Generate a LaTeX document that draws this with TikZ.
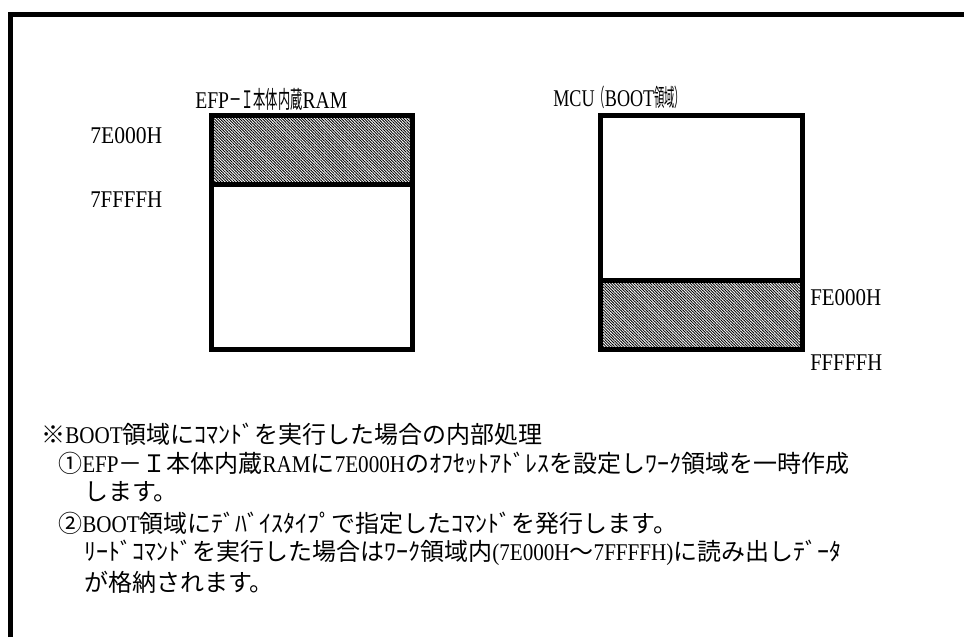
\documentclass[tikz,border=0pt]{standalone}
\usepackage{fontspec}
\usepackage{graphicx}
\setmainfont{Liberation Serif}[FakeStretch=0.88]
\newfontfamily\jp{Noto Sans CJK JP}
\usetikzlibrary{patterns.meta}
\newlength\fitlen
\newcommand\fitw[2]{\settowidth\fitlen{#2}\pgfmathsetmacro\fitfac{#1*0.75/\fitlen}\scalebox{\fitfac}[1]{#2}}
\begin{document}
\begin{tikzpicture}[x=0.75pt,y=-0.75pt,
  frame/.style={line width=3.75pt},
  membox/.style={line width=3.4pt},
  hatch/.style={pattern={Lines[angle=-45,distance=1.5pt,line width=0.65pt]}},
  txt/.style={anchor=west,inner sep=0pt,font=\fontsize{18pt}{22pt}\selectfont}]
\useasboundingbox (0,0) rectangle (964,637);
\fill[white] (0,0) rectangle (964,637);
% outer frame (only top and left are visible)
\coordinate (fbl) at (10.5,637);
\coordinate (ftl) at (10.5,14.5);
\coordinate (ftr) at (964,14.5);
\draw[frame] (fbl) -- (ftl) -- (ftr);
% RAM box
\coordinate (ramtl) at (211.5,115.5);
\coordinate (rambr) at (412.5,349.5);
\coordinate (ramdl) at (211.5,184.5);
\coordinate (ramdr) at (412.5,184.5);
\fill[hatch] (ramtl) rectangle (ramdr);
\draw[membox] (ramtl) rectangle (rambr);
\draw[membox] (ramdl) -- (ramdr);
% MCU box
\coordinate (mcutl) at (600.5,115.5);
\coordinate (mcubr) at (802.5,349.5);
\coordinate (mcudl) at (600.5,280.5);
\coordinate (mcudr) at (802.5,280.5);
\fill[hatch] (mcudl) rectangle (mcubr);
\draw[membox] (mcutl) rectangle (mcubr);
\draw[membox] (mcudl) -- (mcudr);
% titles
\node[txt] (t1) at (195,99) {\fitw{152}{EFP{\jp\scalebox{0.55}[1]{－Ｉ本体内蔵}}RAM}};
\node[txt] (t2) at (553,97) {\fitw{132}{MCU{\jp\scalebox{0.5}[1]{（}}BOOT{\jp\scalebox{0.5}[1]{領域）}}}};
% address labels
\node[txt] (a1) at (90,136) {\fitw{72}{7E000H}};
\node[txt] (a2) at (90,200) {\fitw{72}{7FFFFH}};
\node[txt] (a3) at (810,298) {\fitw{71}{FE000H}};
\node[txt] (a4) at (810,363) {\fitw{72}{FFFFFH}};
% notes
\node[txt] (n1) at (41,434) {{\jp ※}BOOT{\jp 領域にｺﾏﾝﾄﾞを実行した場合の内部処理}};
\node[txt] (n2) at (58,463) {{\jp ①}EFP{\jp －Ｉ本体内蔵}RAM{\jp に}7E000H{\jp のｵﾌｾｯﾄｱﾄﾞﾚｽを設定しﾜｰｸ領域を一時作成}};
\node[txt] (n3) at (84,492) {{\jp します。}};
\node[txt] (n4) at (58,523) {{\jp ②}BOOT{\jp 領域にﾃﾞﾊﾞｲｽﾀｲﾌﾟで指定したｺﾏﾝﾄﾞを発行します。}};
\node[txt] (n5) at (84,553) {{\jp ﾘｰﾄﾞｺﾏﾝﾄﾞを実行した場合はﾜｰｸ領域内}(7E000H{\jp ～}7FFFFH){\jp に読み出しﾃﾞｰﾀ}};
\node[txt] (n6) at (84,582) {{\jp が格納されます。}};
\end{tikzpicture}
\end{document}
